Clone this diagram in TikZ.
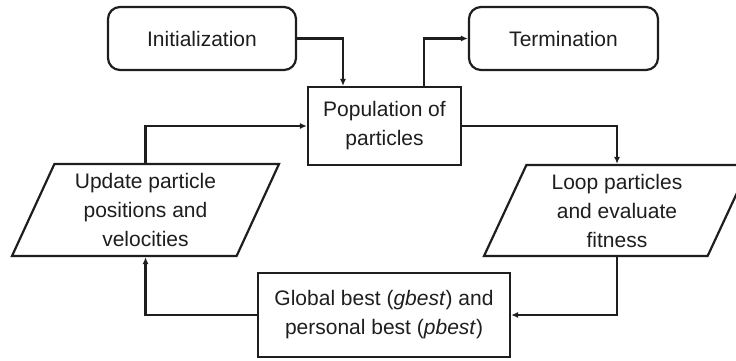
\documentclass[tikz,border=0pt]{standalone}
\usepackage{fontspec}
\setmainfont{Liberation Sans}
\usetikzlibrary{shapes.geometric,arrows.meta,calc}
\definecolor{ink}{HTML}{1E1E1E}
\tikzset{
  every node/.style={font=\fontsize{21}{29}\selectfont, text=ink, align=center, inner sep=0pt},
  terminal/.style={draw=ink, line width=2.2pt, rounded corners=12pt},
  process/.style={draw=ink, line width=2.2pt},
  io/.style={draw=ink, line width=2.2pt, trapezium, trapezium left angle=60,
    trapezium right angle=120, trapezium stretches body},
  flow/.style={draw=ink, line width=2.2pt, -{Latex[length=7pt,width=6pt]}},
}
\begin{document}
\begin{tikzpicture}[x=1pt,y=-1pt]
  \clip (0,0) rectangle (736,360);
  \fill[white] (0,0) rectangle (736,360);

  % start and end of the swarm optimisation
  \node[terminal, minimum width=188pt, minimum height=63pt] (init) at (202,38.5) {Initialization};
  \node[terminal, minimum width=189pt, minimum height=63pt] (term) at (563.5,38.5) {Termination};

  % main loop
  \node[process, minimum width=153pt, minimum height=78pt] (pop) at (384.5,126) {Population of\\particles};
  \node[io, minimum width=266pt, minimum height=91pt] (loop) at (617,210.5) {Loop particles\\and evaluate\\fitness};
  \node[process, minimum width=252pt, minimum height=84pt] (best) at (384,315) {Global best (\textit{gbest}) and\\personal best (\textit{pbest})};
  \node[io, minimum width=267pt, minimum height=92pt] (upd) at (145.5,210) {Update particle\\positions and\\velocities};

  % connectors
  \draw[flow] (init.east) -| ([xshift=-41.5pt]pop.north);
  \draw[flow] ([xshift=39.5pt]pop.north) |- (term.west);
  \draw[flow] (pop.east) -| (loop.north);
  \draw[flow] (loop.south) |- (best.east);
  \draw[flow] (best.west) -| (upd.south);
  \draw[flow] (upd.north) |- (pop.west);
\end{tikzpicture}
\end{document}
